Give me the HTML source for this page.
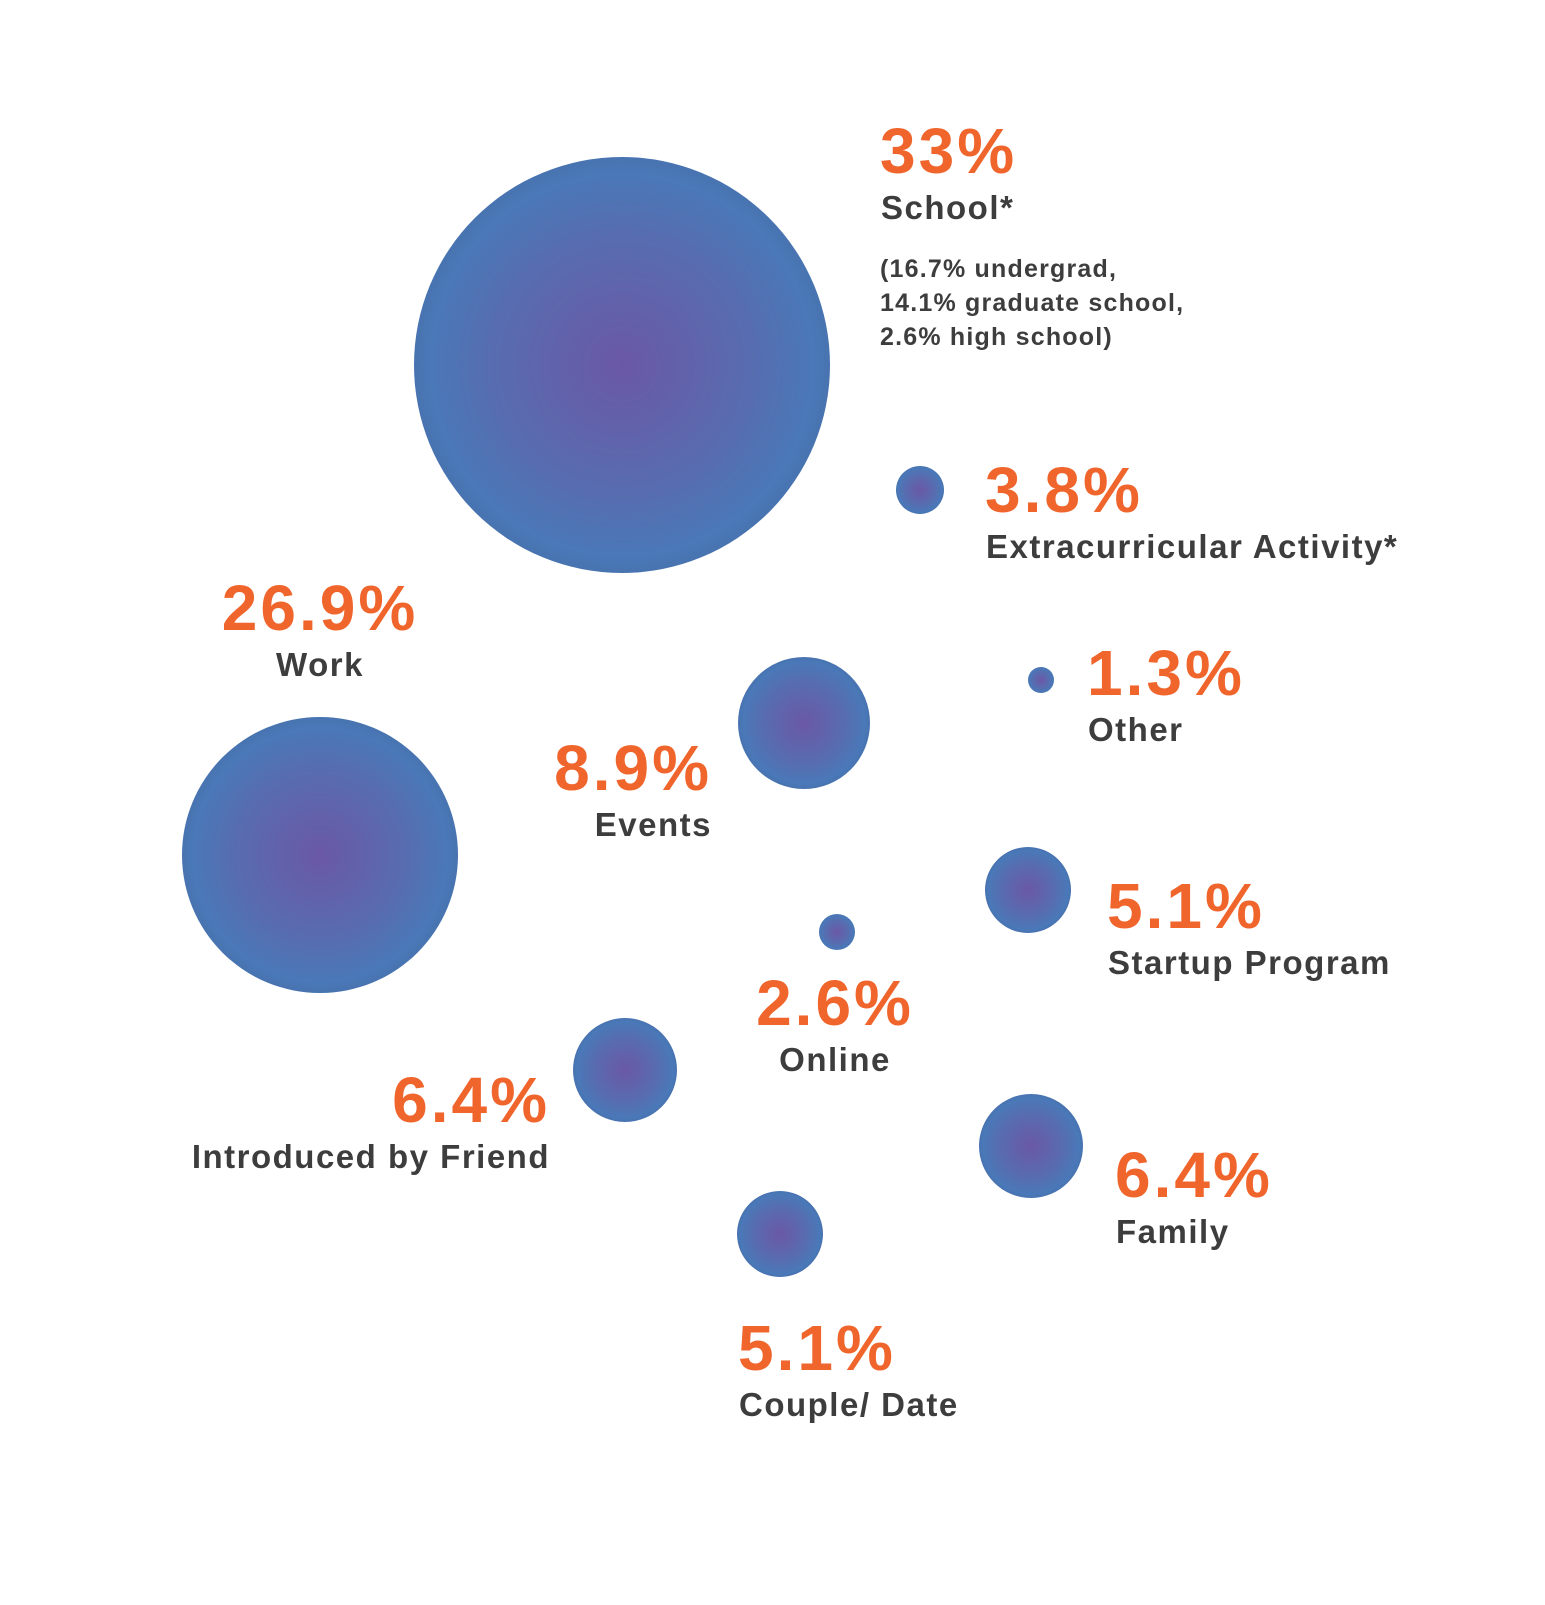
<!DOCTYPE html>
<html><head><meta charset="utf-8">
<style>
html,body{margin:0;padding:0;background:#fff;}
svg text{font-family:"Liberation Sans",sans-serif;font-weight:bold;}
.pct{fill:#f0652c;font-size:64px;letter-spacing:3px;}
.lbl{fill:#3d3d3d;font-size:33px;letter-spacing:1.5px;}
.sub{fill:#3d3d3d;font-size:25px;letter-spacing:1.2px;}
</style></head>
<body>
<svg id="chart" width="1545" height="1600" viewBox="0 0 1545 1600" xmlns="http://www.w3.org/2000/svg">
<defs>
<radialGradient id="bg" cx="50%" cy="50%" r="50%">
<stop offset="0%" stop-color="#6a58a6"/>
<stop offset="55%" stop-color="#5a6aae"/>
<stop offset="92%" stop-color="#4a78b8"/>
<stop offset="100%" stop-color="#4873b0"/>
</radialGradient>
</defs>
<g id="bubbles"></g>
<g id="labels"></g>
<text class="sub" x="880" y="277">(16.7% undergrad,</text>
<text class="sub" x="880" y="311">14.1% graduate school,</text>
<text class="sub" x="880" y="345">2.6% high school)</text>
</svg>
<script>
const categories = ["School*","Extracurricular Activity*","Work","Events","Other","Startup Program","Online","Introduced by Friend","Family","Couple/ Date"];
const values = [33, 3.8, 26.9, 8.9, 1.3, 5.1, 2.6, 6.4, 6.4, 5.1];
const valueLabels = ["33%","3.8%","26.9%","8.9%","1.3%","5.1%","2.6%","6.4%","6.4%","5.1%"];
// layout: bubble centre, label anchor position & alignment
const layout = [
 {cx:622,cy:365,lx:880,ly:173,a:"start"},
 {cx:920,cy:490,lx:985,ly:512,a:"start"},
 {cx:320,cy:855,lx:320,ly:630,a:"middle"},
 {cx:804,cy:723,lx:712,ly:790,a:"end"},
 {cx:1041,cy:680,lx:1087,ly:695,a:"start"},
 {cx:1028,cy:890,lx:1107,ly:928,a:"start"},
 {cx:837,cy:932,lx:835,ly:1025,a:"middle"},
 {cx:625,cy:1070,lx:550,ly:1122,a:"end"},
 {cx:1031,cy:1146,lx:1115,ly:1197,a:"start"},
 {cx:780,cy:1234,lx:738,ly:1370,a:"start"}
];
// piecewise-linear radius scale (the reference's sizing)
const rDomain=[0,1.3,2.6,3.8,5.1,6.4,8.9,26.9,33,100];
const rRange=[0,13,18,24,43,52,66,138,208,400];
function rScale(v){
  for(let k=1;k<rDomain.length;k++){
    if(v<=rDomain[k]){const t=(v-rDomain[k-1])/(rDomain[k]-rDomain[k-1]);return rRange[k-1]+t*(rRange[k]-rRange[k-1]);}
  }
  return rRange[rRange.length-1];
}
const ns="http://www.w3.org/2000/svg";
const gB=document.getElementById('bubbles'), gL=document.getElementById('labels');
categories.forEach((c,i)=>{
  const L=layout[i];
  const slug=c.toLowerCase().replace(/[^a-z]+/g,'-').replace(/^-|-$/g,'');
  const circ=document.createElementNS(ns,'circle');
  circ.setAttribute('cx',L.cx); circ.setAttribute('cy',L.cy);
  circ.setAttribute('r',rScale(values[i]).toFixed(1));
  circ.setAttribute('fill','url(#bg)');
  
  
  gB.appendChild(circ);
  const t1=document.createElementNS(ns,'text');
  t1.setAttribute('class','pct'); t1.setAttribute('x',L.lx); t1.setAttribute('y',L.ly);
  t1.setAttribute('text-anchor',L.a); t1.textContent=valueLabels[i];
  
  
  gL.appendChild(t1);
  const t2=document.createElementNS(ns,'text');
  t2.setAttribute('class','lbl'); t2.setAttribute('x',L.lx+(L.a==="start"?1:0)); t2.setAttribute('y',L.ly+46);
  t2.setAttribute('text-anchor',L.a); t2.textContent=c;
  
  
  gL.appendChild(t2);
});
</script>
</body></html>
